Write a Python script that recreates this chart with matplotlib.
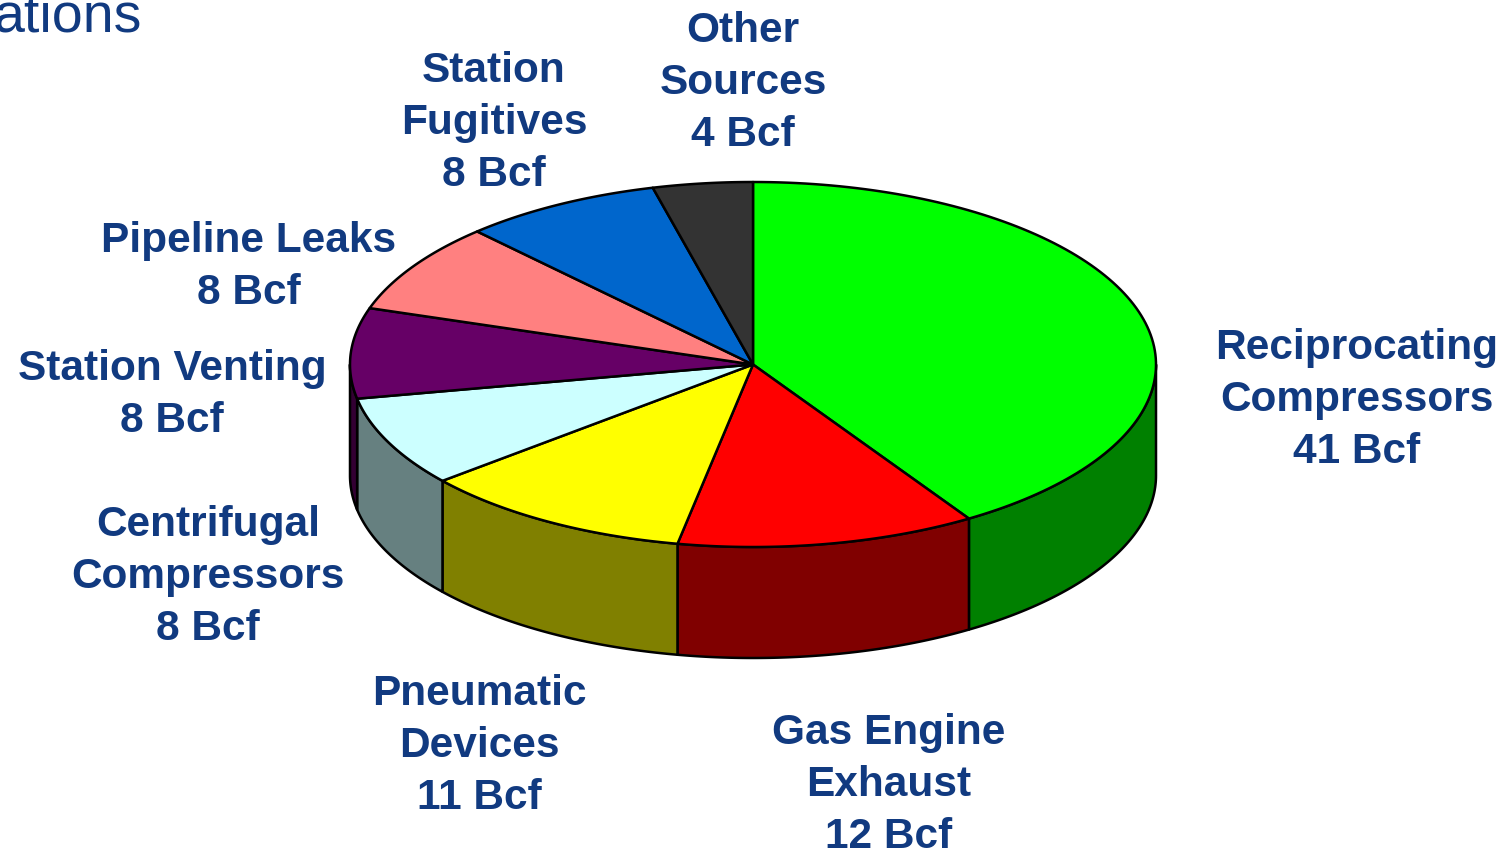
import numpy as np
import matplotlib
matplotlib.use("Agg")
import matplotlib.pyplot as plt
from matplotlib.patches import Polygon

# ---------------- data ----------------
categories = ["Reciprocating\nCompressors", "Gas Engine\nExhaust", "Pneumatic\nDevices",
              "Centrifugal\nCompressors", "Station Venting", "Pipeline Leaks",
              "Station\nFugitives", "Other\nSources"]
values = [41, 12, 11, 8, 8, 8, 8, 4]
unit = "Bcf"
title_fragment = "ations"

top_colors = ["#00FF00", "#FF0000", "#FFFF00", "#CCFFFF", "#660066", "#FF8080", "#0066CC", "#333333"]
side_colors = ["#008000", "#800000", "#808000", "#668080", "#330033", "#804040", "#003366", "#1A1A1A"]

# ---------------- layout ----------------
W, H = 1505, 849
cx, cy = 753, 364.5      # centre of top ellipse (pixels)
rx, ry = 403, 182.5      # radii of top ellipse
depth = 111              # thickness of the 3D pie
text_color = "#113A80"
label_pos = [(1357, 400), (889, 785), (479, 746), (208, 577),
             (172, 395), (249, 267), (494, 123), (743, 83)]

fig = plt.figure(figsize=(W / 100, H / 100), dpi=100)
ax = fig.add_axes([0, 0, 1, 1])
ax.set_xlim(0, W)
ax.set_ylim(H, 0)
ax.axis("off")


def pt(theta_deg, dy=0.0):
    t = np.radians(theta_deg)
    return cx + rx * np.cos(t), cy - ry * np.sin(t) + dy


total = float(sum(values))
angles = [90.0]
for v in values:
    angles.append(angles[-1] - 360.0 * v / total)

lw = 1.8
# side walls (front half: theta in [-180, 0])
for i in range(len(values)):
    a0, a1 = angles[i], angles[i + 1]       # a0 > a1
    hi, lo = min(a0, 0.0), max(a1, -180.0)
    if hi <= lo:
        continue
    ts = np.linspace(hi, lo, 80)
    top = [pt(t) for t in ts]
    bot = [pt(t, depth) for t in ts[::-1]]
    ax.add_patch(Polygon(top + bot, closed=True, facecolor=side_colors[i],
                         edgecolor="black", linewidth=lw, joinstyle="round", zorder=2))

# top wedges
for i in range(len(values)):
    a0, a1 = angles[i], angles[i + 1]
    ts = np.linspace(a0, a1, 120)
    verts = [(cx, cy)] + [pt(t) for t in ts]
    ax.add_patch(Polygon(verts, closed=True, facecolor=top_colors[i],
                         edgecolor="black", linewidth=lw, joinstyle="round", zorder=3))

# labels
for i, (cat, v) in enumerate(zip(categories, values)):
    x, y = label_pos[i]
    ax.text(x, y, f"{cat}\n{v} {unit}", ha="center", va="center", multialignment="center",
            fontsize=30.5, fontweight="bold", family="Liberation Sans", color=text_color,
            linespacing=1.4, zorder=5)

# title fragment (cut off at top-left, as in the source slide)
ax.text(142, 31, title_fragment, ha="right", va="baseline", fontsize=40,
        family="Liberation Sans", color=text_color, zorder=5)

fig.savefig("out.png", dpi=100)
